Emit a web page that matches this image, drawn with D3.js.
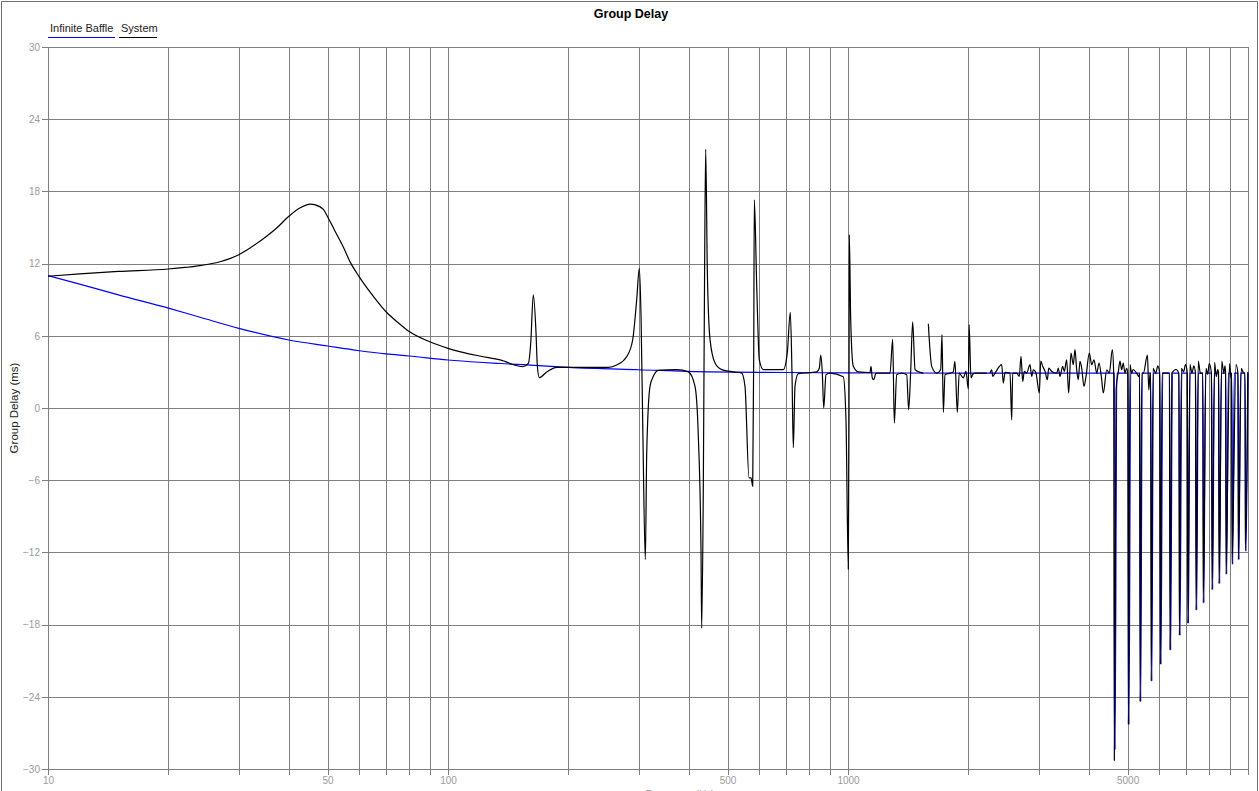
<!DOCTYPE html>
<html>
<head>
<meta charset="utf-8">
<script src="https://cdn.jsdelivr.net/npm/d3@7"></script>
<style>
  html, body { margin: 0; padding: 0; background: #fff; }
  svg { display: block; }
  text { font-family: "Liberation Sans", Arial, sans-serif; }
</style>
</head>
<body>
<svg id="chart" width="1259" height="791"></svg>
<script>
// ---------- data ----------
const chartTitle = "Group Delay";
const yAxisTitle = "Group Delay (ms)";
const xAxisTitle = "Frequency (Hz)";
const seriesNames = ["Infinite Baffle", "System"];
const seriesColors = ["#0000ff", "#000000"];

const xGridValues = [10,20,30,40,50,60,70,80,90,100,200,300,400,500,600,700,800,900,1000,2000,3000,4000,5000,6000,7000,8000,9000,10000];
const xTickLabels = [10, 50, 100, 500, 1000, 5000];
const yTickValues = [-30,-24,-18,-12,-6,0,6,12,18,24,30];

// Infinite Baffle: [frequency Hz, group delay ms]
const baffleData = [
  [10,11.0],[12,10.3],[15,9.4],[20,8.3],[24,7.54],[30,6.62],[40,5.65],[50,5.15],[60,4.76],[70,4.49],[80,4.32],
  [100,3.99],[120,3.8],[135,3.7],[154,3.6],[200,3.38],[300,3.18],[450,3.0],[700,2.95],[1000,2.92],[2000,2.9],
  [4600,2.9],[4640,2.9],[4652,-28.4],[4700,2.9],
  [5010,2.9],[5041,-26.3],[5090,2.9],
  [5360,2.9],[5393,-24.4],[5440,2.9],
  [5712,2.9],[5749,-22.7],[5800,2.9],
  [6022,2.9],[6061,-21.3],[6120,2.9],
  [6368,2.9],[6408,-20.1],[6470,2.9],
  [6720,2.9],[6762,-18.9],[6830,2.9],
  [7055,2.9],[7098,-17.9],[7160,2.9],
  [7398,2.9],[7443,-16.8],[7510,2.9],
  [7712,2.9],[7758,-16.2],[7830,2.9],
  [8113,2.9],[8160,-15.1],[8240,2.9],
  [8447,2.9],[8496,-14.6],[8570,2.9],
  [8795,2.9],[8845,-13.8],[8930,2.9],
  [9105,2.9],[9157,-13.0],[9240,2.9],
  [9442,2.9],[9495,-12.6],[9580,2.9],
  [9831,2.9],[9885,-11.9],[10000,2.9]
];

// System: [frequency Hz, group delay ms]; null = gap in the trace
const systemData = [
  [10,10.95],[12,11.15],[15,11.35],[20,11.55],[22,11.68],[24,11.83],[26.9,12.15],[30,12.74],[32,13.3],[35.2,14.27],[37.3,14.96],
  [40,15.93],[42.6,16.62],[45.3,16.95],[46.4,16.9],[48.8,16.5],[50,15.9],[52,14.8],[54.7,13.4],[57,12.1],[60,10.9],[65,9.3],
  [70,8.0],[75,7.1],[80,6.35],[90,5.5],[100,4.96],[120,4.32],[135,4.0],[154,3.43],[158.8,3.7],[161,5.4],
  [163.4,9.4],[166,6.2],[167.2,3.57],[169.1,2.52],[176.5,3.0],[187,3.38],[200,3.38],[251.6,3.38],[264,3.57],
  [279.7,4.26],[289.5,5.65],[296.3,9.0],[300.8,11.6],[303.8,7.6],[307,-2],[311.4,-12.6],[313.9,-3.7],
  [319.9,1.8],[326,2.63],[335.6,3.13],[373.1,3.19],[398.8,3.0],[414.5,1.8],[422.5,-2.35],[429.1,-12],
  [430.8,-18.3],[434.8,-6.5],[438.3,12.9],[440.8,21.5],[444.9,11.5],[451.9,5.7],[465.1,3.74],[483.4,3.19],
  [516.8,3.0],[542.3,2.9],[552.7,1.8],[565.6,-5.8],[572.2,-5.8],[577.8,-6.5],[581.2,4.6],[583.2,17.3],
  [591.3,10.1],[600.2,4.0],[614.2,3.19],[689,3.19],[705.1,4.6],[717.4,7.95],[724.4,2.9],[729.9,-3.3],
  [737,1.8],[751.2,2.85],[835.2,3.0],[847.8,3.3],[854.7,4.4],[862.6,2.9],[869.6,0],[881,2.77],[901.6,2.9],
  [973.3,2.6],[988.5,-1.0],[1001.7,-13.4],[1005.8,-1],[1007.5,14.4],[1015.7,7.3],[1031,3.46],[1061,3.0],
  [1135,2.95],[1141.6,3.46],[1150,2.5],[1159.6,2.35],[1175,2.9],[1273.5,2.9],[1293.5,5.7],[1305.5,-1.25],
  [1323.6,2.77],[1360,2.9],[1402,2.77],[1418,-0.14],[1434,2.9],[1451,7.15],[1471,3.2],[1514,2.96],[1543,2.9],
  null,
  [1588,7.0],[1619,3.46],[1667,2.9],[1705,3.2],[1718,6.1],[1731,-0.36],[1748,2.77],[1833,3.0],[1851,3.88],
  [1876,-0.36],[1897,2.9],[1942,2.5],[1972,3.05],[1999,1.58],[2008,6.93],[2030,2.5],[2049,2.77],[2077,2.9],
  [2222,2.9],
  null,
  [2265,2.9],[2287,3.18],[2300,2.63],[2331,2.9],[2422,3.6],[2445,2.07],[2470,2.96],[2541,2.9],[2566,-1.0],
  [2581,2.9],[2641,2.9],[2681,2.63],[2707,4.3],[2734,2.2],[2759,3.04],[2797,2.9],[2851,3.6],[2879,2.63],
  [2906,3.18],[2951,2.9],[3008,1.25],[3033,3.9],[3068,3.46],[3109,3.04],[3150,2.35],[3176,3.32],[3231,3.04],
  [3325,2.9],[3356,3.32],[3388,2.63],[3441,3.46],[3473,3.04],[3521,4.0],[3562,1.25],[3609,4.57],[3658,3.6],
  [3694,4.85],[3730,3.18],[3764,2.35],[3802,3.88],[3839,3.32],[3890,1.8],[3936,2.63],[4011,4.57],[4067,3.6],
  [4121,4.0],[4186,2.9],[4242,3.74],[4298,2.63],[4348,1.25],[4434,3.18],[4501,2.9],[4580,4.85],[4615,2.9],
  [4632,-29.3],[4680,1.5],[4740,3.0],[4786,3.9],[4832,3.18],[4877,3.74],[4924,2.9],[4972,3.3],[5005,2.9],
  [5021,-26.3],[5070,3.6],[5116,2.9],[5163,3.2],[5265,2.9],[5340,2.6],[5356,2.9],
  [5372,-24.4],[5425,2.9],[5476,2.9],[5605,4.4],[5650,1.5],[5693,2.9],[5710,2.9],
  [5726,-22.7],[5790,3.3],[5882,2.9],[5950,3.5],[6015,2.9],
  [6037,-21.3],[6100,2.9],[6360,2.9],
  [6383,-20.1],[6450,2.9],[6607,3.2],[6715,2.9],
  [6735,-18.9],[6815,3.3],[6900,3.0],[6980,3.6],[7050,2.9],
  [7070,-17.9],[7160,3.6],[7244,2.9],[7320,3.5],[7390,2.9],
  [7413,-16.8],[7510,3.9],[7602,2.9],[7705,2.9],
  [7727,-16.2],[7850,3.3],[7930,2.8],[8000,3.7],[8100,2.9],
  [8128,-15.1],[8250,3.8],[8330,2.6],[8400,3.2],[8440,2.9],
  [8462,-14.6],[8600,3.9],[8700,2.9],[8760,3.5],[8790,2.9],
  [8810,-13.8],[8990,3.7],[9070,2.5],[9100,2.9],
  [9120,-13.0],[9330,3.6],[9435,2.9],
  [9457,-12.6],[9620,3.3],[9760,2.9],[9825,2.9],
  [9846,-11.9],[9990,3.0]
];

// ---------- layout ----------
const W = 1259, H = 791;
const plot = { left: 48, right: 1248, top: 47, bottom: 769 };

const svg = d3.select("#chart");

const x = d3.scaleLog().domain([10, 10000]).range([plot.left, plot.right]);
const y = d3.scaleLinear().domain([-30, 30]).range([plot.bottom, plot.top]);

// outer frame
svg.append("path")
  .attr("d", `M1.5,${H} V1.5 H${W - 1.5} V${H}`)
  .attr("fill", "none").attr("stroke", "#6e6e6e").attr("stroke-width", 1);

// grid
const grid = svg.append("g").attr("stroke", "#7f7f7f").attr("stroke-width", 1).attr("shape-rendering", "crispEdges");
grid.selectAll("line.v").data(xGridValues).enter().append("line")
  .attr("x1", d => Math.round(x(d)) + 0.5).attr("x2", d => Math.round(x(d)) + 0.5)
  .attr("y1", plot.top).attr("y2", plot.bottom + 6);
grid.selectAll("line.h").data(yTickValues).enter().append("line")
  .attr("y1", d => Math.round(y(d)) + 0.5).attr("y2", d => Math.round(y(d)) + 0.5)
  .attr("x1", plot.left - 6).attr("x2", plot.right + 1);

// axes labels via d3 axes (ticks hidden, labels kept)
const xAxis = d3.axisBottom(x).tickValues(xTickLabels).tickFormat(d3.format("d")).tickSize(0).tickPadding(0);
const gx = svg.append("g").attr("transform", `translate(0,${plot.bottom + 7})`).call(xAxis);
gx.select(".domain").remove();
gx.selectAll("text").attr("fill", "#9a9a9a").attr("font-size", 10)
  .attr("font-family", "Liberation Sans, Arial, sans-serif").attr("dy", "0.75em");

const yAxis = d3.axisLeft(y).tickValues(yTickValues).tickFormat(d3.format("d")).tickSize(0).tickPadding(8);
const gy = svg.append("g").attr("transform", `translate(${plot.left},0)`).call(yAxis);
gy.select(".domain").remove();
gy.selectAll("text").attr("fill", "#9a9a9a").attr("font-size", 10)
  .attr("font-family", "Liberation Sans, Arial, sans-serif").attr("dy", "0.32em");

// clip
svg.append("clipPath").attr("id", "plotclip").append("rect")
  .attr("x", plot.left).attr("y", plot.top - 2).attr("width", plot.right - plot.left + 1).attr("height", plot.bottom - plot.top + 4);

const line = d3.line()
  .defined(d => d !== null)
  .curve(d3.curveMonotoneX)
  .x(d => x(d[0])).y(d => y(d[1]));

const lines = svg.append("g").attr("clip-path", "url(#plotclip)");
lines.append("path").datum(baffleData)
  .attr("d", line).attr("fill", "none").attr("stroke", seriesColors[0]).attr("stroke-width", 1.2)
  .attr("stroke-linejoin", "round");
lines.append("path").datum(systemData)
  .attr("d", line).attr("fill", "none").attr("stroke", seriesColors[1]).attr("stroke-width", 1.2)
  .attr("stroke-linejoin", "round");

// title
svg.append("text").attr("x", 631).attr("y", 18).attr("text-anchor", "middle")
  .attr("font-size", 12.5).attr("font-weight", "bold").attr("fill", "#000").text(chartTitle);

// y axis title
svg.append("text").attr("transform", `translate(18,${(plot.top + plot.bottom) / 2}) rotate(-90)`)
  .attr("text-anchor", "middle").attr("font-size", 11.5).attr("fill", "#222").text(yAxisTitle);

// x axis title (mostly cut off at bottom edge, as in the reference)
svg.append("text").attr("x", 680).attr("y", 798).attr("text-anchor", "middle")
  .attr("font-size", 10).attr("fill", "#9a9a9a").text(xAxisTitle);

// legend
const legend = svg.append("g");
const legendItems = [
  { name: seriesNames[0], color: seriesColors[0], tx: 50, x1: 48, x2: 115 },
  { name: seriesNames[1], color: seriesColors[1], tx: 121, x1: 119, x2: 157 }
];
legendItems.forEach(it => {
  legend.append("text").attr("x", it.tx).attr("y", 32).attr("font-size", 11).attr("fill", "#222").text(it.name);
  legend.append("line").attr("x1", it.x1).attr("x2", it.x2).attr("y1", 37.5).attr("y2", 37.5)
    .attr("stroke", it.color).attr("stroke-width", 1);
});
</script>
</body>
</html>
